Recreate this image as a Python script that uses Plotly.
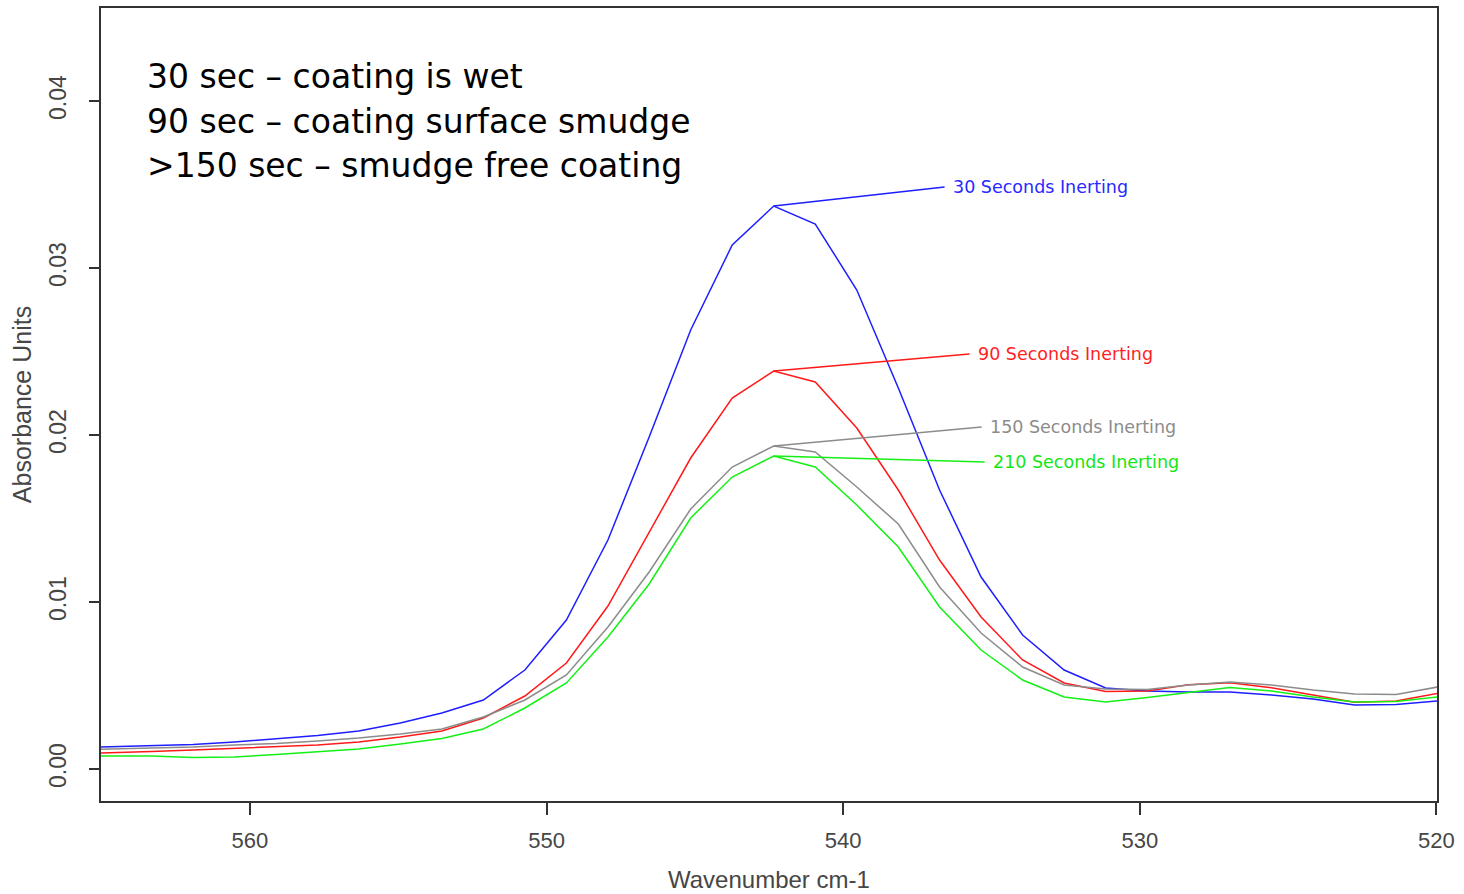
import plotly.graph_objects as go

# Wavenumbers (cm-1)
wavenumber = [566.11, 564.72, 563.32, 561.92, 560.52, 559.12, 557.72, 556.33, 554.93, 553.53,
              552.13, 550.73, 549.33, 547.93, 546.54, 545.14, 543.74, 542.34, 540.94, 539.54,
              538.14, 536.75, 535.35, 533.95, 532.55, 531.15, 529.75, 528.36, 526.96, 525.56,
              524.16, 522.76, 521.36, 519.96, 518.57]

abs_30s = [0.001257, 0.001317, 0.001377, 0.001467, 0.001617, 0.001796, 0.002006, 0.002275, 0.002754, 0.003353,
           0.004132, 0.005928, 0.008922, 0.013713, 0.019880, 0.026287, 0.031377, 0.033713, 0.032635, 0.028683,
           0.022814, 0.016707, 0.011497, 0.008024, 0.005928, 0.004850, 0.004671, 0.004611, 0.004611, 0.004431,
           0.004192, 0.003832, 0.003862, 0.004072, 0.004132]

abs_90s = [0.000898, 0.000958, 0.001048, 0.001138, 0.001228, 0.001335, 0.001437, 0.001617, 0.001916, 0.002275,
           0.003054, 0.004371, 0.006347, 0.009760, 0.014192, 0.018623, 0.022216, 0.023832, 0.023174, 0.020419,
           0.016707, 0.012515, 0.009102, 0.006527, 0.005150, 0.004641, 0.004671, 0.005048, 0.005168, 0.004868,
           0.004431, 0.003994, 0.004072, 0.004533, 0.004731]

abs_150s = [0.001138, 0.001198, 0.001257, 0.001317, 0.001437, 0.001527, 0.001677, 0.001856, 0.002096, 0.002395,
            0.003114, 0.004132, 0.005629, 0.008503, 0.011796, 0.015569, 0.018084, 0.019341, 0.018982, 0.016886,
            0.014671, 0.010898, 0.008144, 0.006108, 0.005030, 0.004790, 0.004760, 0.005030, 0.005210, 0.005030,
            0.004731, 0.004491, 0.004461, 0.004910, 0.005090]

abs_210s = [0.000778, 0.000778, 0.000778, 0.000689, 0.000719, 0.000868, 0.001018, 0.001198, 0.001497, 0.001826,
            0.002395, 0.003653, 0.005150, 0.007904, 0.011078, 0.015030, 0.017485, 0.018743, 0.018084, 0.015808,
            0.013293, 0.009701, 0.007126, 0.005329, 0.004311, 0.004012, 0.004281, 0.004581, 0.004880, 0.004671,
            0.004311, 0.004012, 0.004042, 0.004311, 0.004431]

series_names = ["30 Seconds Inerting", "90 Seconds Inerting", "150 Seconds Inerting", "210 Seconds Inerting"]
series_values = [abs_30s, abs_90s, abs_150s, abs_210s]
line_colors = ["rgb(30,30,255)", "rgb(255,25,25)", "rgb(140,140,140)", "rgb(20,240,20)"]
text_colors = ["rgb(40,40,255)", "rgb(255,30,30)", "rgb(140,140,140)", "rgb(20,230,20)"]
# label line end points (x in cm-1, y in absorbance)
label_end_x = [536.58, 535.74, 535.33, 535.23]
label_end_y = [0.03485, 0.02485, 0.02048, 0.01838]

x_ticks = [560, 550, 540, 530, 520]
y_ticks = [0.00, 0.01, 0.02, 0.03, 0.04]
y_tick_text = ["0.00", "0.01", "0.02", "0.03", "0.04"]

notes = ["30 sec \u2013 coating is wet",
         "90 sec \u2013 coating surface smudge",
         ">150 sec \u2013 smudge free coating"]
notes_y = [0.9142, 0.8575, 0.8008]

fig = go.Figure()
for name, vals, col in zip(series_names, series_values, line_colors):
    fig.add_trace(go.Scatter(x=wavenumber, y=vals, mode="lines", name=name,
                             line=dict(color=col, width=1.5), showlegend=False))

# Leader lines from each peak to its label
for vals, col, tcol, name, ex, ey in zip(series_values, line_colors, text_colors, series_names,
                                         label_end_x, label_end_y):
    i = vals.index(max(vals))
    fig.add_shape(type="line", xref="x", yref="y", x0=wavenumber[i], y0=vals[i], x1=ex, y1=ey,
                  line=dict(color=col, width=1.5))
    fig.add_annotation(x=ex, y=ey, xref="x", yref="y", text=name, showarrow=False,
                       xanchor="left", yanchor="middle", xshift=6,
                       font=dict(family="DejaVu Sans", size=17.5, color=tcol))

for txt, ny in zip(notes, notes_y):
    fig.add_annotation(x=0.033, y=ny, xref="paper", yref="paper", xanchor="left", yanchor="middle",
                       align="left", showarrow=False, text=txt,
                       font=dict(family="DejaVu Sans", size=33, color="black"))

axis_col = "rgb(50,50,50)"
xtick_font = dict(family="Liberation Sans", size=22, color="rgb(70,70,70)")
ytick_font = dict(family="Liberation Sans", size=23, color="rgb(70,70,70)")
title_font = dict(family="Liberation Sans", size=25, color="rgb(70,70,70)")

# x-axis title placed below the tick labels
fig.add_annotation(x=0.5, y=-0.0985, xref="paper", yref="paper", xanchor="center", yanchor="middle",
                   showarrow=False, text="Wavenumber cm-1",
                   font=dict(family="Liberation Sans", size=24, color="rgb(70,70,70)"))

fig.update_xaxes(range=[565.02, 519.98], tickmode="array", tickvals=x_ticks,
                 ticks="outside", ticklen=12, tickwidth=1.5, tickcolor=axis_col,
                 showline=True, linecolor=axis_col, linewidth=1.5, mirror=True,
                 showgrid=False, zeroline=False, tickfont=xtick_font, automargin=False,
                 ticklabeloverflow="allow", ticklabelstandoff=7)
fig.update_yaxes(range=[-0.001916, 0.04557], tickmode="array", tickvals=y_ticks, ticktext=y_tick_text,
                 tickangle=-90, ticks="outside", ticklen=10, tickwidth=1.5, tickcolor=axis_col,
                 showline=True, linecolor=axis_col, linewidth=1.5, mirror=True,
                 showgrid=False, zeroline=False, tickfont=ytick_font, ticklabelstandoff=14,
                 title=dict(text="Absorbance Units", standoff=6, font=title_font))

fig.update_layout(width=1464, height=894, margin=dict(l=101, r=27, t=8, b=93),
                  paper_bgcolor="white", plot_bgcolor="white")

fig.write_html("out.html", config={"displayModeBar": False},
               post_script="document.body.style.margin='0';document.body.style.overflow='hidden';")
